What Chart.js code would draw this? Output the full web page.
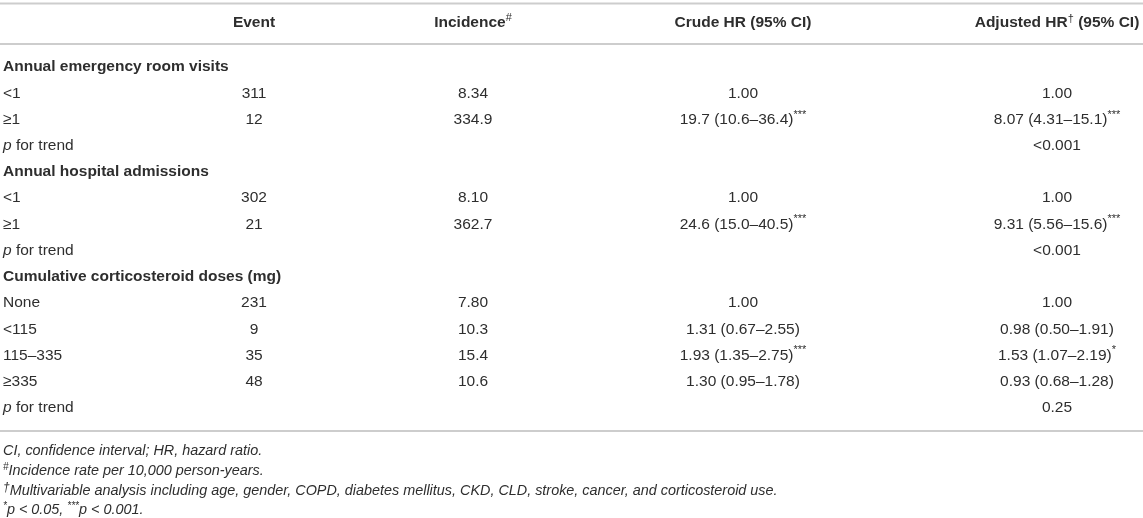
<!DOCTYPE html>
<html>
<head>
<meta charset="utf-8">
<script src="https://cdn.jsdelivr.net/npm/chart.js@4.4.1/dist/chart.umd.min.js"></script>
<style>
  body { margin: 0; background: #fff; }
  #tbl { display: block; }
</style>
</head>
<body>
<canvas id="tbl" width="1143" height="518"></canvas>
<script>
// 행 라벨 (첫번째 열)
const rowLabels = ['Annual emergency room visits', '<1', '≥1', 'p for trend',
                   'Annual hospital admissions', '<1', '≥1', 'p for trend',
                   'Cumulative corticosteroid doses (mg)', 'None', '<115', '115–335', '≥335', 'p for trend'];
// 행 종류 : group / item / trend
const rowKinds = ['group', 'item', 'item', 'trend',
                  'group', 'item', 'item', 'trend',
                  'group', 'item', 'item', 'item', 'item', 'trend'];

const events    = [null, 311, 12, null, null, 302, 21, null, null, 231, 9, 35, 48, null];
const incidence = [null, '8.34', '334.9', null, null, '8.10', '362.7', null, null, '7.80', '10.3', '15.4', '10.6', null];

const crudeHR  = [null, '1.00', '19.7 (10.6–36.4)', null, null, '1.00', '24.6 (15.0–40.5)', null,
                  null, '1.00', '1.31 (0.67–2.55)', '1.93 (1.35–2.75)', '1.30 (0.95–1.78)', null];
const crudeSig = ['', '', '***', '', '', '', '***', '', '', '', '', '***', '', ''];

const adjHR  = [null, '1.00', '8.07 (4.31–15.1)', '<0.001', null, '1.00', '9.31 (5.56–15.6)', '<0.001',
                null, '1.00', '0.98 (0.50–1.91)', '1.53 (1.07–2.19)', '0.93 (0.68–1.28)', '0.25'];
const adjSig = ['', '', '***', '', '', '', '***', '', '', '', '', '*', '', ''];

const FF = '"Liberation Sans", Arial, Helvetica, sans-serif';
const TXT = '#2e2e2e';
const F_REG = '15.5px ' + FF;
const F_BOLD = 'bold 15.5px ' + FF;
const F_ITAL = 'italic 15.5px ' + FF;
const F_SUP = '11px ' + FF;
const F_NOTE = 'italic 14.4px ' + FF;
const F_NOTESUP = 'italic 10px ' + FF;

// 열 위치
const colX = { label: 3, event: 254, incidence: 473, crude: 743, adjusted: 1057 };

function drawRuns(ctx, runs, x, y, align) {
	let total = 0;
	runs.forEach(function(r) {
		ctx.font = r.font;
		r.w = ctx.measureText(r.text).width;
		total += r.w;
	});
	let cx = x;
	if (align === 'center') cx = x - total / 2;
	if (align === 'right') cx = x - total;
	runs.forEach(function(r) {
		ctx.font = r.font;
		ctx.fillText(r.text, cx, y + (r.dy || 0));
		cx += r.w;
	});
}

function hLine(ctx, y, w) {
	ctx.save();
	ctx.strokeStyle = '#cdcdcd';
	ctx.lineWidth = 2;
	ctx.beginPath();
	ctx.moveTo(0, y);
	ctx.lineTo(w, y);
	ctx.stroke();
	ctx.restore();
}

const tablePlugin = {
	id: 'tablePlugin',
	afterDraw: function(chart) {
		const ctx = chart.ctx;
		const yScale = chart.scales.y;
		const w = chart.width;
		ctx.save();
		ctx.fillStyle = TXT;
		ctx.textAlign = 'left';
		ctx.textBaseline = 'middle';

		// 테두리 선
		hLine(ctx, 3.5, w);
		hLine(ctx, 44, w);
		hLine(ctx, 431, w);

		// 헤더
		const hy = 23;
		drawRuns(ctx, [{ text: 'Event', font: F_BOLD }], colX.event, hy, 'center');
		drawRuns(ctx, [{ text: 'Incidence', font: F_BOLD }, { text: '#', font: F_SUP, dy: -5 }], colX.incidence, hy, 'center');
		drawRuns(ctx, [{ text: 'Crude HR (95% CI)', font: F_BOLD }], colX.crude, hy, 'center');
		drawRuns(ctx, [{ text: 'Adjusted HR', font: F_BOLD }, { text: '†', font: F_SUP, dy: -4 },
		               { text: ' (95% CI)', font: F_BOLD }], colX.adjusted, hy, 'center');

		// 본문
		for (let i = 0; i < rowLabels.length; i++) {
			const y = yScale.getPixelForValue(i);
			const kind = rowKinds[i];
			if (kind === 'group') {
				drawRuns(ctx, [{ text: rowLabels[i], font: F_BOLD }], colX.label, y, 'left');
			} else if (kind === 'trend') {
				drawRuns(ctx, [{ text: 'p', font: F_ITAL }, { text: ' for trend', font: F_REG }], colX.label, y, 'left');
			} else {
				drawRuns(ctx, [{ text: rowLabels[i], font: F_REG }], colX.label, y, 'left');
			}
			if (events[i] !== null) {
				drawRuns(ctx, [{ text: String(events[i]), font: F_REG }], colX.event, y, 'center');
			}
			if (incidence[i] !== null) {
				drawRuns(ctx, [{ text: incidence[i], font: F_REG }], colX.incidence, y, 'center');
			}
			if (crudeHR[i] !== null) {
				let runs = [{ text: crudeHR[i], font: F_REG }];
				if (crudeSig[i]) runs.push({ text: crudeSig[i], font: F_SUP, dy: -5 });
				drawRuns(ctx, runs, colX.crude, y, 'center');
			}
			if (adjHR[i] !== null) {
				let runs = [{ text: adjHR[i], font: F_REG }];
				if (adjSig[i]) runs.push({ text: adjSig[i], font: F_SUP, dy: -5 });
				drawRuns(ctx, runs, colX.adjusted, y, 'center');
			}
		}

		// 각주
		drawRuns(ctx, [{ text: 'CI, confidence interval; HR, hazard ratio.', font: F_NOTE }], 3, 451, 'left');
		drawRuns(ctx, [{ text: '#', font: F_NOTESUP, dy: -4 },
		               { text: 'Incidence rate per 10,000 person-years.', font: F_NOTE }], 3, 471, 'left');
		drawRuns(ctx, [{ text: '†', font: 'italic 12px ' + FF, dy: -3 },
		               { text: 'Multivariable analysis including age, gender, COPD, diabetes mellitus, CKD, CLD, stroke, cancer, and corticosteroid use.', font: F_NOTE }], 3, 491, 'left');
		drawRuns(ctx, [{ text: '*', font: F_NOTESUP, dy: -4 },
		               { text: 'p < 0.05, ', font: F_NOTE },
		               { text: '***', font: F_NOTESUP, dy: -4 },
		               { text: 'p < 0.001.', font: F_NOTE }], 3, 510, 'left');
		ctx.restore();
	}
};

var ctx = document.getElementById('tbl').getContext('2d');
var tableChart = new Chart(ctx, {
	type: 'scatter',
	data: {
		labels: rowLabels,
		datasets: [{ data: [] }]
	},
	options: {
		responsive: false,
		animation: false,
		layout: { padding: { top: 54, bottom: 97, left: 0, right: 0 } },
		scales: {
			x: { type: 'linear', min: 0, max: 1143, display: false },
			y: { type: 'category', labels: rowLabels, offset: true, display: false }
		},
		plugins: {
			legend: { display: false },
			tooltip: { enabled: false }
		}
	},
	plugins: [tablePlugin]
});
</script>
</body>
</html>
